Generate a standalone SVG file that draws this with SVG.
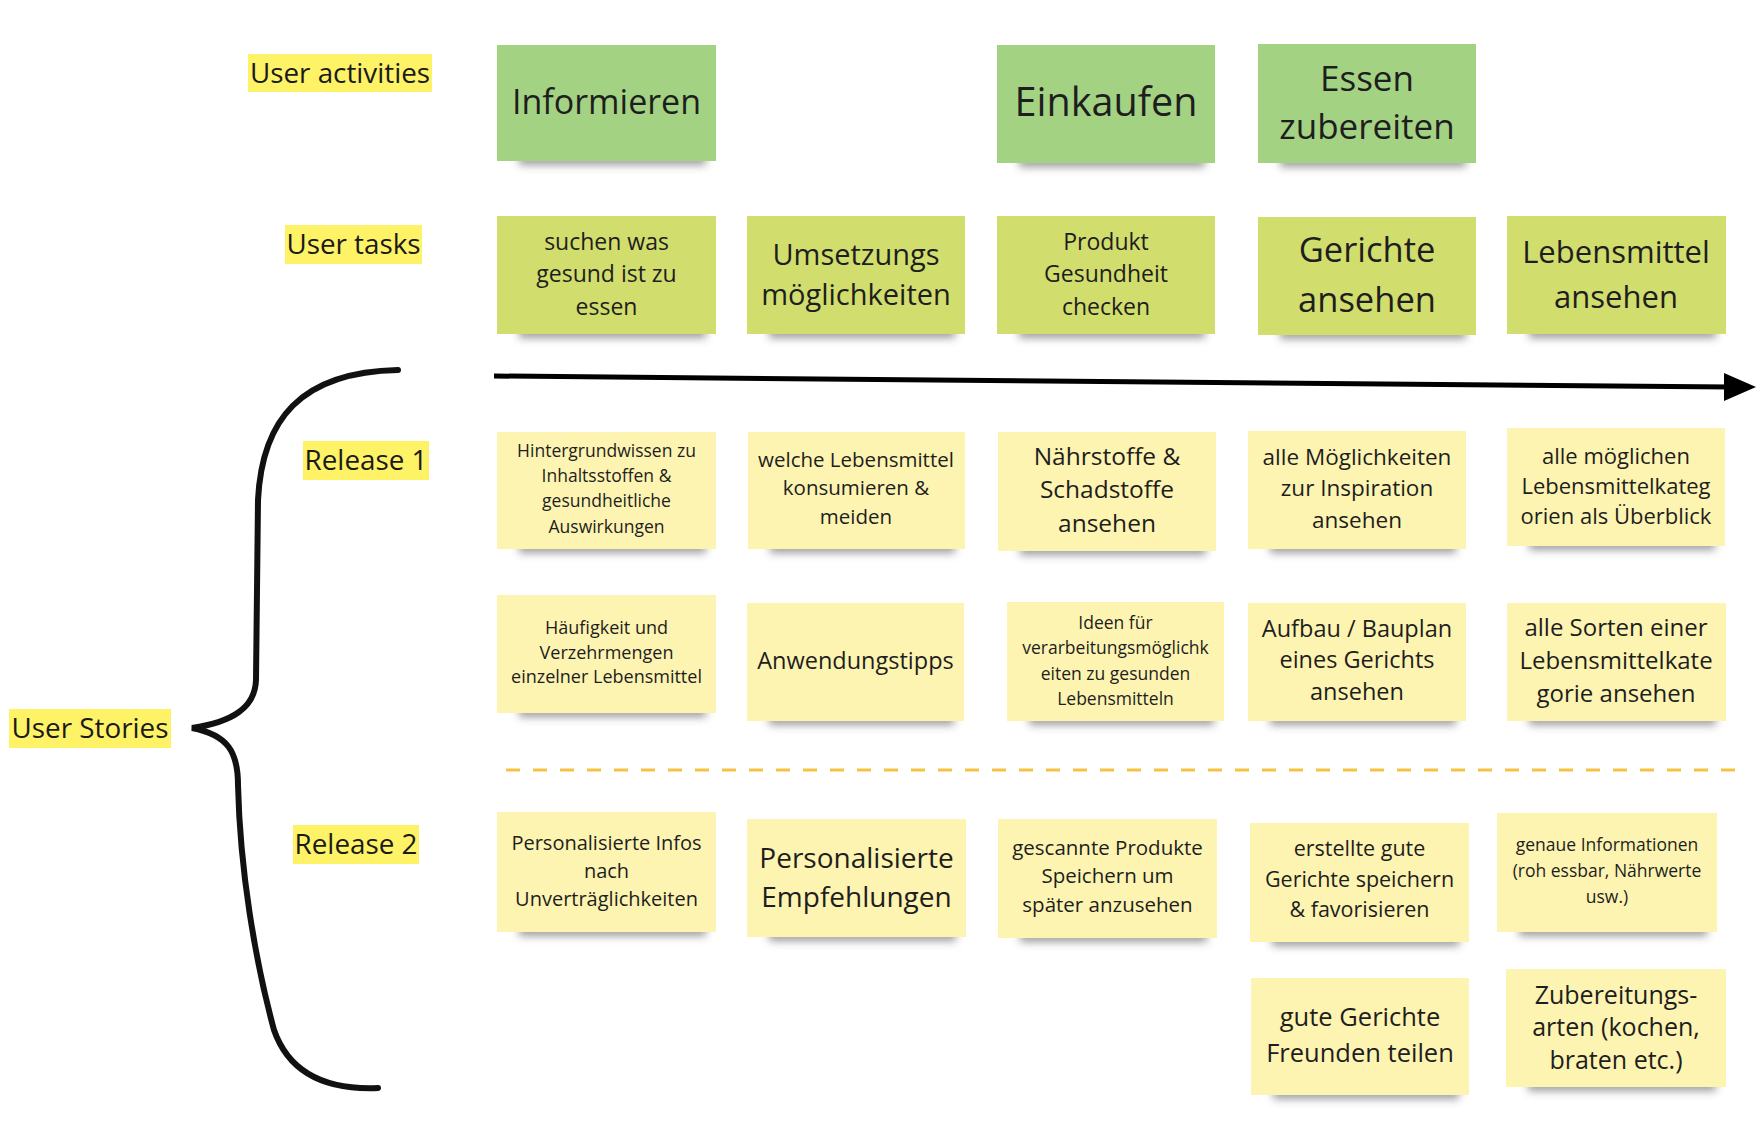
<svg xmlns="http://www.w3.org/2000/svg" width="1764" height="1122" viewBox="0 0 1764 1122">
<defs>
<filter id="sh" x="-20%" y="-100%" width="140%" height="300%"><feGaussianBlur stdDeviation="4"/></filter>
<style>
.act{fill:#a4d283}
.task{fill:#d1dd6d}
.story{fill:#fdf4b1}
.hl{fill:#fef266}
.shadow{fill:#3a3a3a;opacity:.5;filter:url(#sh)}
text{font-family:"Open Sans","Noto Sans","DejaVu Sans",sans-serif;fill:#1e1e1e;text-anchor:middle}
.lbl{font-size:27.8px;fill:#1a1a1a}
</style>
</defs>
<rect width="1764" height="1122" fill="#ffffff"/>

<g id="connectors">
<path d="M398 370 C300 372 262 420 258 500 L256 680 C255 708 232 722 192 728 C228 735 238 752 238 785 C240 870 255 960 274 1030 C290 1076 330 1090 378 1088" fill="none" stroke="#111" stroke-width="6" stroke-linecap="round"/>
<line x1="494" y1="376" x2="1730" y2="387" stroke="#000" stroke-width="5"/>
<polygon points="1724,373 1756,387 1724,401" fill="#000"/>
<line x1="506" y1="770" x2="1744" y2="770" stroke="#f6c244" stroke-width="3" stroke-dasharray="14 13"/>
</g>

<g id="label-activities"><rect class="hl" x="248" y="54" width="184" height="38"/><text class="lbl" x="340" y="83">User activities</text></g>
<g id="label-tasks"><rect class="hl" x="285" y="225" width="137" height="39"/><text class="lbl" x="353.5" y="254">User tasks</text></g>
<g id="label-release1"><rect class="hl" x="303" y="441" width="126" height="39"/><text class="lbl" x="366" y="470">Release 1</text></g>
<g id="label-stories"><rect class="hl" x="9" y="709" width="162" height="39"/><text class="lbl" x="90" y="738">User Stories</text></g>
<g id="label-release2"><rect class="hl" x="293" y="825" width="126" height="39"/><text class="lbl" x="356" y="854">Release 2</text></g>

<!-- Activities -->
<g id="n-informieren"><rect class="shadow" x="519" y="153" width="187" height="12"/><rect class="act" x="497" y="45" width="219" height="116"/><text x="606.5" y="114" font-size="34">Informieren</text></g>
<g id="n-einkaufen"><rect class="shadow" x="1019" y="155" width="186" height="12"/><rect class="act" x="997" y="45" width="218" height="118"/><text x="1106" y="116" font-size="39.5">Einkaufen</text></g>
<g id="n-essen"><rect class="shadow" x="1280" y="155" width="186" height="12"/><rect class="act" x="1258" y="44" width="218" height="119"/><text x="1367" y="91" font-size="35">Essen</text><text x="1367" y="139" font-size="35">zubereiten</text></g>

<!-- Tasks -->
<g id="n-suchen"><rect class="shadow" x="519" y="326" width="187" height="12"/><rect class="task" x="497" y="216" width="219" height="118"/><text x="606.5" y="250" font-size="23">suchen was</text><text x="606.5" y="282" font-size="23">gesund ist zu</text><text x="606.5" y="315" font-size="23">essen</text></g>
<g id="n-umsetzung"><rect class="shadow" x="769" y="326" width="186" height="12"/><rect class="task" x="747" y="216" width="218" height="118"/><text x="856" y="265" font-size="29">Umsetzungs</text><text x="856" y="305" font-size="29">möglichkeiten</text></g>
<g id="n-produkt"><rect class="shadow" x="1019" y="326" width="186" height="12"/><rect class="task" x="997" y="216" width="218" height="118"/><text x="1106" y="250" font-size="23">Produkt</text><text x="1106" y="282" font-size="23">Gesundheit</text><text x="1106" y="315" font-size="23">checken</text></g>
<g id="n-gerichte"><rect class="shadow" x="1280" y="327" width="186" height="12"/><rect class="task" x="1258" y="217" width="218" height="118"/><text x="1367" y="262" font-size="34.5">Gerichte</text><text x="1367" y="312" font-size="34.5">ansehen</text></g>
<g id="n-lebensmittel"><rect class="shadow" x="1529" y="326" width="187" height="12"/><rect class="task" x="1507" y="216" width="219" height="118"/><text x="1616" y="263" font-size="31">Lebensmittel</text><text x="1616" y="308" font-size="31">ansehen</text></g>

<!-- Release 1 row 1 -->
<g id="n-hintergrund"><rect class="shadow" x="519" y="541" width="187" height="12"/><rect class="story" x="497" y="432" width="219" height="117"/><text x="606.5" y="457" font-size="17.5">Hintergrundwissen zu</text><text x="606.5" y="482" font-size="17.5">Inhaltsstoffen &amp;</text><text x="606.5" y="507" font-size="17.5">gesundheitliche</text><text x="606.5" y="533" font-size="17.5">Auswirkungen</text></g>
<g id="n-welche"><rect class="shadow" x="770" y="541" width="185" height="12"/><rect class="story" x="748" y="432" width="217" height="117"/><text x="856" y="467" font-size="20.5">welche Lebensmittel</text><text x="856" y="495" font-size="20.5">konsumieren &amp;</text><text x="856" y="524" font-size="20.5">meiden</text></g>
<g id="n-naehrstoffe"><rect class="shadow" x="1020" y="543" width="186" height="12"/><rect class="story" x="998" y="432" width="218" height="119"/><text x="1107" y="465" font-size="24.5">Nährstoffe &amp;</text><text x="1107" y="498" font-size="24.5">Schadstoffe</text><text x="1107" y="532" font-size="24.5">ansehen</text></g>
<g id="n-moeglichkeiten"><rect class="shadow" x="1270" y="541" width="186" height="12"/><rect class="story" x="1248" y="431" width="218" height="118"/><text x="1357" y="465" font-size="22.5">alle Möglichkeiten</text><text x="1357" y="496" font-size="22.5">zur Inspiration</text><text x="1357" y="528" font-size="22.5">ansehen</text></g>
<g id="n-kategorien"><rect class="shadow" x="1529" y="538" width="186" height="12"/><rect class="story" x="1507" y="428" width="218" height="118"/><text x="1616" y="464" font-size="22">alle möglichen</text><text x="1616" y="494" font-size="22">Lebensmittelkateg</text><text x="1616" y="524" font-size="22">orien als Überblick</text></g>

<!-- Release 1 row 2 -->
<g id="n-haeufigkeit"><rect class="shadow" x="519" y="705" width="187" height="12"/><rect class="story" x="497" y="595" width="219" height="118"/><text x="606.5" y="634" font-size="18">Häufigkeit und</text><text x="606.5" y="659" font-size="18">Verzehrmengen</text><text x="606.5" y="683" font-size="18">einzelner Lebensmittel</text></g>
<g id="n-anwendung"><rect class="shadow" x="769" y="713" width="185" height="12"/><rect class="story" x="747" y="603" width="217" height="118"/><text x="855.5" y="669" font-size="23.5">Anwendungstipps</text></g>
<g id="n-ideen"><rect class="shadow" x="1029" y="713" width="185" height="12"/><rect class="story" x="1007" y="602" width="217" height="119"/><text x="1115.5" y="629" font-size="17.5">Ideen für</text><text x="1115.5" y="654" font-size="17.5">verarbeitungsmöglichk</text><text x="1115.5" y="680" font-size="17.5">eiten zu gesunden</text><text x="1115.5" y="705" font-size="17.5">Lebensmitteln</text></g>
<g id="n-aufbau"><rect class="shadow" x="1270" y="713" width="186" height="12"/><rect class="story" x="1248" y="603" width="218" height="118"/><text x="1357" y="637" font-size="23.5">Aufbau / Bauplan</text><text x="1357" y="668" font-size="23.5">eines Gerichts</text><text x="1357" y="700" font-size="23.5">ansehen</text></g>
<g id="n-sorten"><rect class="shadow" x="1529" y="713" width="187" height="12"/><rect class="story" x="1507" y="603" width="219" height="118"/><text x="1616" y="636" font-size="24">alle Sorten einer</text><text x="1616" y="669" font-size="24">Lebensmittelkate</text><text x="1616" y="702" font-size="24">gorie ansehen</text></g>

<!-- Release 2 -->
<g id="n-personal-infos"><rect class="shadow" x="519" y="924" width="187" height="12"/><rect class="story" x="497" y="812" width="219" height="120"/><text x="606.5" y="850" font-size="20">Personalisierte Infos</text><text x="606.5" y="878" font-size="20">nach</text><text x="606.5" y="906" font-size="20">Unverträglichkeiten</text></g>
<g id="n-personal-empf"><rect class="shadow" x="769" y="929" width="187" height="12"/><rect class="story" x="747" y="819" width="219" height="118"/><text x="856.5" y="868" font-size="28">Personalisierte</text><text x="856.5" y="907" font-size="28">Empfehlungen</text></g>
<g id="n-gescannt"><rect class="shadow" x="1020" y="930" width="187" height="12"/><rect class="story" x="998" y="819" width="219" height="119"/><text x="1107.5" y="855" font-size="20.5">gescannte Produkte</text><text x="1107.5" y="883" font-size="20.5">Speichern um</text><text x="1107.5" y="912" font-size="20.5">später anzusehen</text></g>
<g id="n-erstellte"><rect class="shadow" x="1272" y="934" width="187" height="12"/><rect class="story" x="1250" y="823" width="219" height="119"/><text x="1359.5" y="856" font-size="21.5">erstellte gute</text><text x="1359.5" y="887" font-size="21.5">Gerichte speichern</text><text x="1359.5" y="917" font-size="21.5">&amp; favorisieren</text></g>
<g id="n-genaue"><rect class="shadow" x="1519" y="924" width="188" height="12"/><rect class="story" x="1497" y="813" width="220" height="119"/><text x="1607" y="851" font-size="17.5">genaue Informationen</text><text x="1607" y="877" font-size="17.5">(roh essbar, Nährwerte</text><text x="1607" y="903" font-size="17.5">usw.)</text></g>
<g id="n-teilen"><rect class="shadow" x="1273" y="1087" width="186" height="12"/><rect class="story" x="1251" y="978" width="218" height="117"/><text x="1360" y="1026" font-size="25.5">gute Gerichte</text><text x="1360" y="1062" font-size="25.5">Freunden teilen</text></g>
<g id="n-zubereitung"><rect class="shadow" x="1528" y="1079" width="188" height="12"/><rect class="story" x="1506" y="969" width="220" height="118"/><text x="1616" y="1004" font-size="25">Zubereitungs-</text><text x="1616" y="1036" font-size="25">arten (kochen,</text><text x="1616" y="1069" font-size="25">braten etc.)</text></g>
</svg>
